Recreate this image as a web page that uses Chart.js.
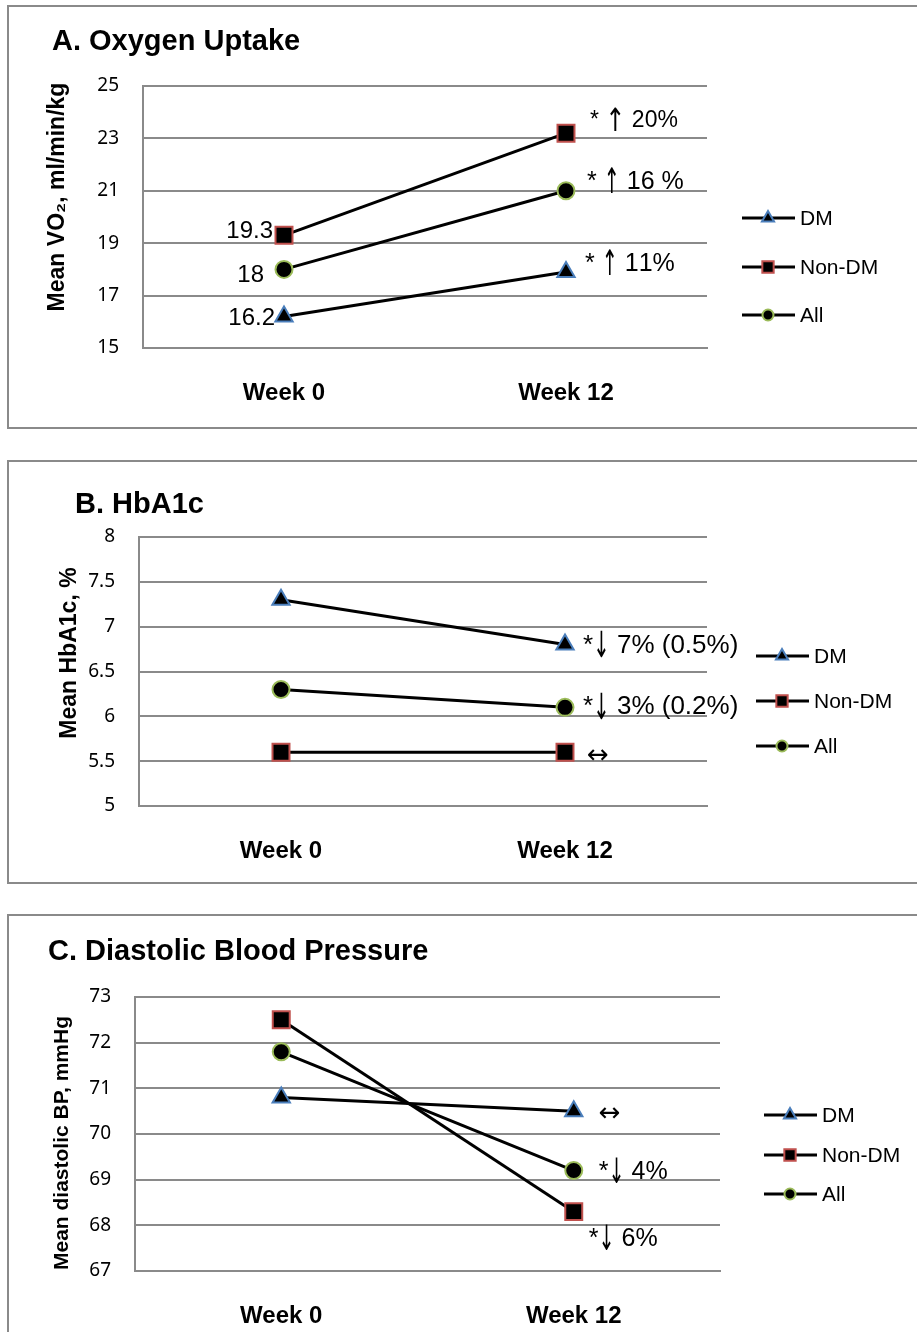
<!DOCTYPE html>
<html>
<head>
<meta charset="utf-8">
<script src="https://cdn.jsdelivr.net/npm/chart.js@4"></script>
<style>
  body { margin: 0; background: #fff; }
  .box { position: absolute; left: 7px; width: 930px; border: 2px solid #8a8a8a; box-sizing: border-box; }
  canvas { position: absolute; left: 0; }
</style>
</head>
<body>
<div class="box" style="top:5px;height:424px"></div>
<div class="box" style="top:460px;height:424px"></div>
<div class="box" style="top:914px;height:440px"></div>
<canvas id="chartA" width="917" height="440" style="top:0"></canvas>
<canvas id="chartB" width="917" height="450" style="top:440px"></canvas>
<canvas id="chartC" width="917" height="442" style="top:890px"></canvas>
<script>
const weeks = ['Week 0', 'Week 12'];
const groups = ['DM', 'Non-DM', 'All'];

const vo2DM = [16.2, 17.9];
const vo2NonDM = [19.3, 23.2];
const vo2All = [18, 21];
const vo2Ticks = [15, 17, 19, 21, 23, 25];
const vo2Change = ['* \u2191 11%', '* \u2191 20%', '* \u2191 16 %'];

const hba1cDM = [7.3, 6.8];
const hba1cNonDM = [5.6, 5.6];
const hba1cAll = [6.3, 6.1];
const hba1cTicks = [5, 5.5, 6, 6.5, 7, 7.5, 8];
const hba1cChange = ['*\u2193 7% (0.5%)', '\u2194', '*\u2193 3% (0.2%)'];

const dbpDM = [70.8, 70.5];
const dbpNonDM = [72.5, 68.3];
const dbpAll = [71.8, 69.2];
const dbpTicks = [67, 68, 69, 70, 71, 72, 73];
const dbpChange = ['\u2194', '*\u2193 6%', '*\u2193 4%'];

const markers = [
  { style: 'triangle', edge: '#4a7ebb', r: 10, lr: 7 },
  { style: 'rect', edge: '#c0504d', r: 12, lr: 8 },
  { style: 'circle', edge: '#9bbb59', r: 8.5, lr: 5.5 }
];
const GRID = '#8a8a8a';
const SANS = '"Liberation Sans", Arial, sans-serif';

function drawMarker(ctx, style, x, y, r, edge) {
  ctx.save();
  ctx.fillStyle = '#000';
  ctx.strokeStyle = edge;
  ctx.lineWidth = 2;
  ctx.beginPath();
  if (style === 'triangle') {
    ctx.moveTo(x, y - r);
    ctx.lineTo(x + r * 0.866, y + r * 0.5);
    ctx.lineTo(x - r * 0.866, y + r * 0.5);
    ctx.closePath();
  } else if (style === 'rect') {
    const s = r * Math.SQRT1_2;
    ctx.rect(x - s, y - s, 2 * s, 2 * s);
  } else {
    ctx.arc(x, y, r, 0, Math.PI * 2);
  }
  ctx.fill();
  ctx.stroke();
  ctx.restore();
}

// note text; arrows come from DejaVu, up/down ones squeezed to look thin
function drawNote(ctx, text, x, y, size, squeeze) {
  let cx = x;
  for (const ch of text) {
    if (ch === '\u2191' || ch === '\u2193') {
      ctx.font = Math.round(size * 1.4) + 'px "DejaVu Sans"';
      const w = ctx.measureText(ch).width * squeeze;
      ctx.save();
      ctx.translate(cx, y + size * 0.16);
      ctx.scale(squeeze, 1);
      ctx.fillText(ch, 0, 0);
      ctx.restore();
      cx += w;
    } else if (ch === '\u2194') {
      ctx.font = Math.round(size * 1.1) + 'px "DejaVu Sans"';
      ctx.fillText(ch, cx, y);
      cx += ctx.measureText(ch).width;
    } else {
      ctx.font = size + 'px ' + SANS;
      ctx.fillText(ch, cx, y);
      cx += ctx.measureText(ch).width;
    }
  }
}

// titles, axis title, legend and change notes
const panelText = {
  id: 'panelText',
  afterDraw(chart, args, o) {
    const ctx = chart.ctx;
    const x = chart.scales.x, y = chart.scales.y;
    ctx.save();
    ctx.fillStyle = '#000';
    ctx.font = 'bold 29px ' + SANS;
    ctx.textAlign = 'left';
    ctx.textBaseline = 'alphabetic';
    ctx.fillText(o.title, o.titleX, o.titleY);

    ctx.save();
    ctx.translate(o.yTitleX, o.yTitleY);
    ctx.rotate(-Math.PI / 2);
    ctx.font = 'bold ' + o.yTitleSize + 'px ' + SANS;
    ctx.textAlign = 'center';
    ctx.textBaseline = 'middle';
    ctx.fillText(o.yTitle, 0, 0);
    ctx.restore();

    ctx.font = '21px ' + SANS;
    ctx.textBaseline = 'middle';
    groups.forEach((g, i) => {
      const ly = o.legendY[i];
      ctx.strokeStyle = '#000';
      ctx.lineWidth = 3;
      ctx.beginPath();
      ctx.moveTo(o.legendX, ly);
      ctx.lineTo(o.legendX + 53, ly);
      ctx.stroke();
      drawMarker(ctx, markers[i].style, o.legendX + 26, ly, markers[i].lr, markers[i].edge);
      ctx.fillStyle = '#000';
      ctx.textAlign = 'left';
      ctx.fillText(g, o.legendX + 58, ly + 1);
    });

    ctx.textAlign = 'left';
    ctx.textBaseline = 'alphabetic';
    (o.notes || []).forEach(n => {
      const d = chart.data.datasets[n.ds];
      const px = x.getPixelForValue(1);
      const py = y.getPixelForValue(d.data[1]);
      drawNote(ctx, o.changes[n.ds], px + n.dx, py + n.dy, n.size, n.squeeze || 0.55);
    });
    ctx.font = '24px ' + SANS;
    ctx.textAlign = 'right';
    (o.startLabels || []).forEach(n => {
      const d = chart.data.datasets[n.ds];
      const px = x.getPixelForValue(0);
      const py = y.getPixelForValue(d.data[0]);
      ctx.fillText(String(d.data[0]), px + n.dx, py + n.dy);
    });
    ctx.restore();
  }
};

function makeChart(id, series, ticks, area, text) {
  new Chart(document.getElementById(id), {
    type: 'line',
    data: {
      labels: weeks,
      datasets: series.map((s, i) => ({
        label: groups[i],
        data: s,
        borderColor: '#000',
        borderWidth: 3,
        pointStyle: markers[i].style,
        pointRadius: markers[i].r,
        pointHoverRadius: markers[i].r,
        pointBackgroundColor: '#000',
        pointBorderColor: markers[i].edge,
        pointBorderWidth: 2,
        tension: 0
      }))
    },
    options: {
      responsive: false,
      animation: false,
      layout: { padding: { left: 0, top: area.top, right: area.right, bottom: 0 } },
      plugins: { legend: { display: false }, tooltip: { enabled: false }, panelText: text },
      scales: {
        x: {
          offset: true,
          grid: { display: false },
          border: { display: true, color: GRID, width: 2 },
          ticks: { color: '#000', padding: 23, font: { family: '"Liberation Sans", Arial', size: 24, weight: 'bold' } },
          afterFit(s) { s.height = area.xHeight; }
        },
        y: {
          min: ticks[0],
          max: ticks[ticks.length - 1],
          afterBuildTicks(s) { s.ticks = ticks.map(v => ({ value: v })); },
          grid: { color: GRID, lineWidth: 2, drawTicks: false },
          border: { display: true, color: GRID, width: 2 },
          ticks: { color: '#000', padding: 24, font: { family: '"Noto Sans"', size: 19 }, callback: v => String(v) },
          afterFit(s) { s.width = area.left; }
        }
      }
    },
    plugins: [panelText]
  });
}

makeChart('chartA', [vo2DM, vo2NonDM, vo2All], vo2Ticks,
  { left: 143, top: 86, right: 210, xHeight: 92 },
  {
    title: 'A. Oxygen Uptake', titleX: 52, titleY: 50,
    yTitle: 'Mean VO\u2082, ml/min/kg', yTitleX: 58, yTitleY: 197, yTitleSize: 23,
    legendX: 742, legendY: [218, 267, 315],
    changes: vo2Change,
    notes: [
      { ds: 1, dx: 24, dy: -6, size: 23, squeeze: 0.75 },
      { ds: 2, dx: 21, dy: -2, size: 25 },
      { ds: 0, dx: 19, dy: -1, size: 25 }
    ],
    startLabels: [{ ds: 1, dx: -11, dy: 3 }, { ds: 2, dx: -20, dy: 13 }, { ds: 0, dx: -9, dy: 8 }]
  });

makeChart('chartB', [hba1cDM, hba1cNonDM, hba1cAll], hba1cTicks,
  { left: 139, top: 97, right: 210, xHeight: 84 },
  {
    title: 'B. HbA1c', titleX: 75, titleY: 73,
    yTitle: 'Mean HbA1c, %', yTitleX: 70, yTitleY: 213, yTitleSize: 23,
    legendX: 756, legendY: [216, 261, 306],
    changes: hba1cChange,
    notes: [
      { ds: 0, dx: 18, dy: 8, size: 26 },
      { ds: 2, dx: 18, dy: 7, size: 26 },
      { ds: 1, dx: 22, dy: 11, size: 24 }
    ]
  });

makeChart('chartC', [dbpDM, dbpNonDM, dbpAll], dbpTicks,
  { left: 135, top: 107, right: 197, xHeight: 61 },
  {
    title: 'C. Diastolic Blood Pressure', titleX: 48, titleY: 70,
    yTitle: 'Mean diastolic BP, mmHg', yTitleX: 62, yTitleY: 253, yTitleSize: 21,
    legendX: 764, legendY: [225, 265, 304],
    changes: dbpChange,
    notes: [
      { ds: 0, dx: 25, dy: 10, size: 24 },
      { ds: 2, dx: 25, dy: 8, size: 25 },
      { ds: 1, dx: 15, dy: 34, size: 25 }
    ]
  });
</script>
</body>
</html>
